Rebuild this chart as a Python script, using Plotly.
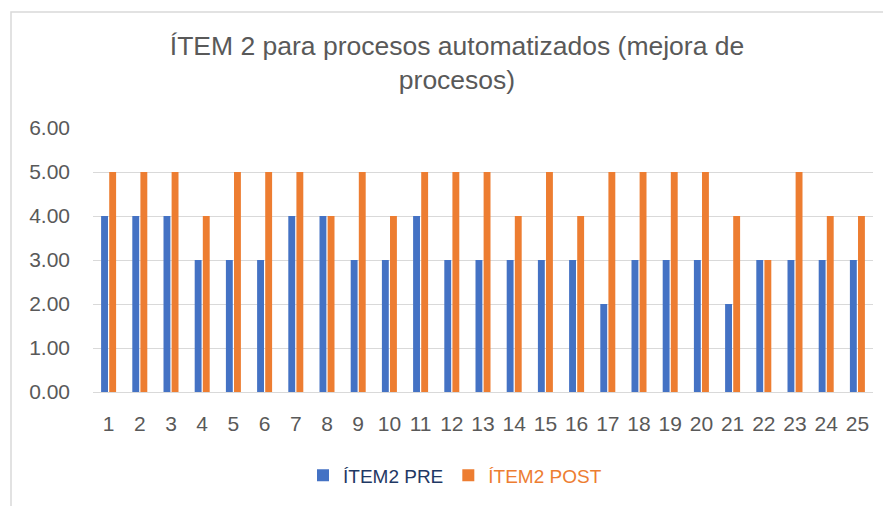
import plotly.graph_objects as go

categories = [str(i) for i in range(1, 26)]
pre_values = [4, 4, 4, 3, 3, 3, 4, 4, 3, 3, 4, 3, 3, 3, 3, 3, 2, 3, 3, 3, 2, 3, 3, 3, 3]
post_values = [5, 5, 5, 4, 5, 5, 5, 4, 5, 4, 5, 5, 5, 4, 5, 4, 5, 5, 5, 5, 4, 3, 5, 4, 4]
y_ticks = [0, 1, 2, 3, 4, 5, 6]

OFF = 8  # page body margin
W, H = 891 - OFF, 506 - OFF
L, R, T, B = 93 - OFF, 18, 128 - OFF, 112
pw, ph = W - L - R, H - T - B

def px(x):
    return (x - OFF - L) / pw

def py(y):
    return (H - B - (y - OFF)) / ph

fig = go.Figure()
fig.add_trace(go.Bar(x=categories, y=pre_values,
                     name="<span style='color:#1F3864'>ÍTEM2 PRE</span>",
                     marker=dict(color="#4472C4", line=dict(width=0))))
fig.add_trace(go.Bar(x=categories, y=post_values,
                     name="<span style='color:#ED7D31'>ÍTEM2 POST</span>",
                     marker=dict(color="#ED7D31", line=dict(width=0))))

fig.update_layout(
    width=W, height=H,
    margin=dict(l=L, r=R, t=T, b=B),
    paper_bgcolor="white", plot_bgcolor="white",
    font=dict(family="Liberation Sans, Arial, sans-serif", color="#595959"),
    title=dict(text="ÍTEM 2 para procesos automatizados (mejora de<br>procesos)",
               x=px(457), xanchor="center", xref="paper",
               y=1 - (55 - OFF) / H, yanchor="middle",
               font=dict(size=26.5, color="#595959")),
    barmode="group", bargap=0.48, bargroupgap=0.15,
    showlegend=True,
    legend=dict(orientation="h", x=px(455), xanchor="center",
                y=py(478), yanchor="middle",
                font=dict(size=19), itemwidth=30),
    shapes=[dict(type="rect", xref="paper", yref="paper",
                 x0=px(11), x1=px(895), y0=py(510), y1=py(11),
                 line=dict(color="#D9D9D9", width=1.5), fillcolor="rgba(0,0,0,0)",
                 layer="below")],
)
fig.update_yaxes(range=[0, 6], tickvals=y_ticks, tickformat=".2f",
                 showgrid=True, gridcolor="#D9D9D9", gridwidth=1,
                 zeroline=False, showline=False, ticks="",
                 tickfont=dict(size=21, color="#595959"),
                 ticklabelstandoff=22)
fig.update_xaxes(type="category", showgrid=False, showline=True,
                 linecolor="#D9D9D9", linewidth=1, ticks="",
                 tickfont=dict(size=21, color="#595959"),
                 ticklabelstandoff=13)

fig.write_html("out.html")
